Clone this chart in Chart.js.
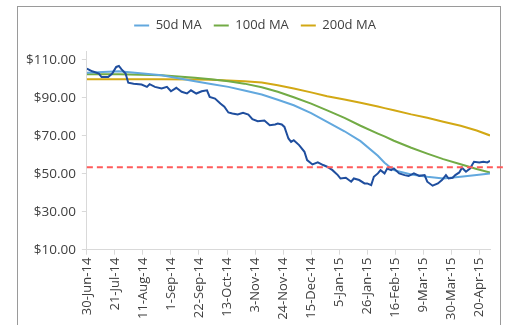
<!DOCTYPE html>
<html>
<head>
<meta charset="utf-8">
<script src="https://cdn.jsdelivr.net/npm/chart.js@4"></script>
<style>
  html, body { margin: 0; padding: 0; background: #fff; overflow: hidden; }
  #frame { position: absolute; left: 17px; top: 6px; width: 482px; height: 340px; border: 1px solid #9a9a9a; }
  #priceChart { position: absolute; left: 0; top: 0; }
</style>
</head>
<body>
<div id="frame"></div>
<canvas id="priceChart" width="505" height="325"></canvas>
<script>
// x tick labels, one every 21 days from 30-Jun-14
const tickLabels = ['30-Jun-14', '21-Jul-14', '11-Aug-14', '1-Sep-14', '22-Sep-14', '13-Oct-14', '3-Nov-14',
    '24-Nov-14', '15-Dec-14', '5-Jan-15', '26-Jan-15', '16-Feb-15', '9-Mar-15', '30-Mar-15', '20-Apr-15'];
const yTicks = [10, 30, 50, 70, 90, 110];

// price (days since 30-Jun-14)
const priceDays = [0, 4, 9, 11, 16, 19, 22, 24, 26, 29, 31, 35, 41, 45, 47, 51, 56, 60, 63, 67, 71, 75, 78, 82, 86, 90,
    92, 96, 100, 103, 106, 109, 113, 117, 121, 124, 128, 133, 137, 141, 143, 146, 148, 151, 153, 155, 159, 163, 165,
    169, 173, 177, 180, 184, 188, 190, 194, 198, 200, 204, 208, 210, 213, 215, 218, 220, 223, 225, 228, 230, 234, 238,
    241, 245, 249, 253, 255, 259, 263, 266, 269, 271, 274, 276, 279, 281, 284, 287, 290, 294, 297, 300, 302];
const priceValues = [105.4, 104.0, 102.8, 101.0, 101.0, 102.8, 106.3, 106.8, 105.0, 102.8, 98.0, 97.5, 97.0, 95.8,
    97.2, 95.8, 94.9, 95.8, 93.5, 95.3, 93.2, 92.3, 94.0, 92.3, 93.5, 94.0, 90.5, 89.6, 87.0, 85.3, 82.3, 81.8, 81.2,
    82.1, 81.2, 78.8, 77.7, 78.1, 75.6, 76.0, 76.5, 76.0, 74.7, 68.6, 66.8, 67.7, 65.1, 61.6, 57.2, 54.9, 56.0, 54.6,
    53.7, 51.9, 49.3, 47.5, 47.9, 45.8, 47.5, 46.7, 44.9, 44.9, 44.0, 48.4, 50.2, 51.9, 50.2, 52.8, 51.9, 52.8, 50.2,
    49.3, 48.8, 50.2, 48.9, 49.3, 45.8, 43.7, 44.9, 46.7, 49.3, 47.5, 47.9, 49.3, 50.7, 53.2, 51.1, 52.8, 56.3, 56.0,
    56.3, 56.0, 56.8];

// moving averages
const maDays = [0, 24, 56, 81, 93, 106, 118, 131, 143, 155, 168, 180, 193, 205, 218, 223, 230, 243, 255, 267, 280, 292, 302];
const ma50 = [103.3, 104.0, 101.9, 98.8, 97.3, 95.8, 93.9, 91.8, 89.0, 86.1, 82.0, 77.4, 72.4, 67.2, 59.5, 55.8, 51.9,
    49.6, 48.4, 47.5, 48.4, 49.4, 50.2];
const ma100 = [102.5, 102.4, 101.9, 100.6, 99.8, 98.7, 97.5, 95.6, 93.2, 90.3, 87.0, 83.4, 79.5, 75.3, 71.2, 69.7, 67.4,
    63.7, 60.6, 57.7, 55.0, 52.5, 50.7];
const ma200 = [99.8, 99.8, 99.8, 99.7, 99.6, 99.2, 98.7, 98.1, 96.6, 94.9, 92.9, 90.9, 89.1, 87.4, 85.4, 84.6, 83.5,
    81.3, 79.5, 77.4, 75.3, 72.8, 70.2];

const refLevel = 53.5;
const refDays = [0, 317];

const toPoints = (xs, ys) => xs.map((x, i) => ({ x: x, y: ys[i] }));

// push the plot down a bit below the legend
const legendGap = {
    id: 'legendGap',
    beforeInit(chart) {
        const fit = chart.legend.fit;
        chart.legend.fit = function () {
            fit.bind(chart.legend)();
            this.height += 9;
        };
    }
};

let ctx = document.getElementById('priceChart').getContext('2d');
let priceChart = new Chart(ctx, {
    type: 'line',
    data: {
        datasets: [
            {
                label: 'Level',
                data: refDays.map(d => ({ x: d, y: refLevel })),
                borderColor: '#ff5b5b',
                backgroundColor: '#ff5b5b',
                borderWidth: 2,
                borderDash: [6, 4],
                clip: false
            },
            {
                label: 'Price',
                data: toPoints(priceDays, priceValues),
                borderColor: '#1f4e9e',
                backgroundColor: '#1f4e9e',
                borderWidth: 2
            },
            {
                label: '50d MA',
                data: toPoints(maDays, ma50),
                borderColor: '#62a8de',
                backgroundColor: '#62a8de',
                borderWidth: 2
            },
            {
                label: '100d MA',
                data: toPoints(maDays, ma100),
                borderColor: '#72ab45',
                backgroundColor: '#72ab45',
                borderWidth: 2
            },
            {
                label: '200d MA',
                data: toPoints(maDays, ma200),
                borderColor: '#d2a814',
                backgroundColor: '#d2a814',
                borderWidth: 2
            }
        ]
    },
    options: {
        responsive: false,
        animation: false,
        elements: {
            point: { radius: 0 },
            line: { tension: 0 }
        },
        layout: {
            padding: { left: 20, right: 15, top: 7, bottom: 2 }
        },
        plugins: {
            tooltip: { enabled: false },
            legend: {
                position: 'top',
                labels: {
                    font: { family: 'Open Sans', size: 13 },
                    color: '#404040',
                    boxWidth: 15,
                    boxHeight: 2,
                    padding: 12,
                    filter: item => item.text.indexOf('MA') >= 0,
                    generateLabels: chart => Chart.defaults.plugins.legend.labels.generateLabels(chart)
                        .map(l => Object.assign(l, { lineWidth: 0 }))
                }
            }
        },
        scales: {
            x: {
                type: 'linear',
                min: 0,
                max: 302,
                afterBuildTicks: axis => { axis.ticks = tickLabels.map((t, i) => ({ value: i * 21 })); },
                ticks: {
                    autoSkip: false,
                    minRotation: 90,
                    maxRotation: 90,
                    padding: 3,
                    color: '#404040',
                    font: { family: 'Open Sans', size: 13 },
                    callback: v => tickLabels[Math.round(v / 21)]
                },
                grid: { drawOnChartArea: false, tickLength: 5, color: '#d9d9d9' },
                border: { color: '#d9d9d9' }
            },
            y: {
                min: 10,
                max: 114.7,
                afterBuildTicks: axis => { axis.ticks = yTicks.map(v => ({ value: v })); },
                ticks: {
                    padding: 6,
                    color: '#404040',
                    font: { family: 'Open Sans', size: 13.5 },
                    callback: v => '$' + v.toFixed(2)
                },
                grid: { drawOnChartArea: false, tickLength: 5, color: '#d9d9d9' },
                border: { color: '#d9d9d9' }
            }
        }
    },
    plugins: [legendGap]
});
</script>
</body>
</html>
